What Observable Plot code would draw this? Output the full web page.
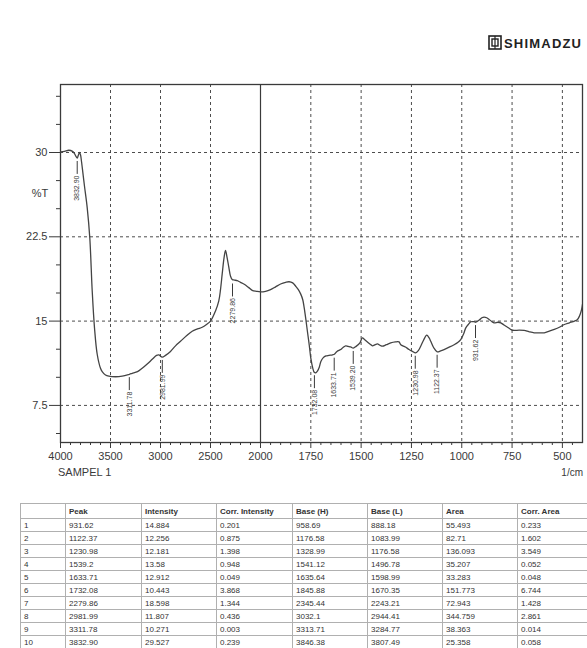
<!DOCTYPE html>
<html><head><meta charset="utf-8">
<script src="https://cdn.jsdelivr.net/npm/d3@7"></script>
<script src="https://cdn.jsdelivr.net/npm/@observablehq/plot@0.6"></script>
<style>
html,body{margin:0;padding:0;background:#fff;overflow:hidden;width:587px;height:648px}
body{font-family:"Liberation Sans",Arial,sans-serif;position:relative}
#chart svg{display:block}
table{border-collapse:collapse;position:absolute;left:20px;top:503px;font-size:8px;color:#333;table-layout:fixed;width:572px}
td,th{border:1px solid #b0b0b0;padding:0 3px;white-space:nowrap;overflow:hidden;text-align:left;font-weight:normal}
th{height:14px;font-weight:bold}
td{height:12px}
</style></head><body><div id="chart"></div><div id="tbl"></div>
<script>
// Spectrum (wavenumber 1/cm, %T)
const wn = [4000,3960,3917,3880,3860,3845,3833,3822,3810,3800,3790,3783,3760,3733,3707,3683,3660,3633,3600,3583,3550,3517,3450,3383,3311,3283,3230,3183,3130,3083,3040,3017,2983,2950,2900,2850,2800,2740,2683,2630,2583,2540,2500,2450,2417,2400,2383,2365,2350,2335,2317,2300,2283,2260,2233,2200,2167,2120,2083,2040,2000,1975,1950,1925,1900,1875,1858,1840,1825,1812,1800,1790,1783,1775,1767,1758,1750,1740,1733,1725,1717,1708,1700,1688,1675,1660,1642,1633,1620,1602,1590,1577,1565,1552,1539,1525,1506,1494,1482,1469,1455,1444,1430,1419,1406,1394,1375,1353,1330,1312,1303,1280,1262,1245,1229,1215,1204,1190,1174,1162,1154,1140,1122,1105,1088,1060,1038,1020,1005,990,980,965,955,940,930,913,900,889,876,864,850,839,820,806,790,773,755,740,715,690,665,640,615,590,565,540,515,490,465,440,425,415,405,400];
const tr = [30.05,30.1,30.2,30.1,29.9,29.65,29.5,29.75,30.0,29.8,29.2,28.7,27.0,25.1,22.4,17.7,14.4,12.05,10.8,10.5,10.2,10.1,10.05,10.1,10.27,10.35,10.5,10.8,11.2,11.6,11.95,12.0,11.8,11.95,12.3,12.8,13.2,13.7,14.1,14.3,14.45,14.7,15.0,15.9,16.8,17.8,19.2,20.6,21.3,20.7,19.8,19.0,18.7,18.65,18.6,18.45,18.3,18.0,17.74,17.65,17.6,17.65,17.8,18.05,18.3,18.45,18.5,18.4,18.1,17.8,17.4,16.9,16.2,15.2,14.1,12.9,11.7,10.8,10.45,10.4,10.55,10.9,11.4,11.75,11.9,11.95,12.0,12.05,12.3,12.47,12.65,12.8,12.75,12.7,12.6,12.75,13.06,13.5,13.35,13.15,12.95,12.8,12.9,12.97,12.85,12.77,12.9,13.06,13.15,13.15,12.9,12.7,12.47,12.3,12.17,12.4,12.77,13.3,13.75,13.5,13.2,12.65,12.26,12.35,12.47,12.7,12.9,13.1,13.36,13.9,14.4,14.75,14.94,14.95,14.9,15.1,15.3,15.36,15.3,15.15,14.95,14.85,14.9,14.85,14.65,14.46,14.25,14.17,14.2,14.17,14.05,13.96,13.95,13.96,14.1,14.26,14.45,14.7,14.85,15.0,15.15,15.45,16.0,16.5];

// Peak annotations
const peakWn = [3832.90,3311.78,2981.99,2279.86,1732.08,1633.71,1539.20,1230.98,1122.37,931.62];
const peakT = [29.5,10.27,11.8,18.6,10.44,12.0,12.6,12.17,12.26,14.9];
const peakLabel = ["3832.90","3311.78","2981.99","2279.86","1732.08","1633.71","1539.20","1230.98","1122.37","931.62"];

// Axis ticks
const xTicks = [4000,3500,3000,2500,2000,1750,1500,1250,1000,750,500];
const xMinor = [3900,3800,3700,3600,3400,3300,3200,3100,2900,2800,2700,2600,2400,2300,2200,2100,1950,1900,1850,1800,1700,1650,1600,1550,1450,1400,1350,1300,1200,1150,1100,1050,950,900,850,800,700,650,600,550,450];
const xGrid = [3500,3000,2500,1750,1500,1250,1000,750,500];
const xBreak = [2000];
const yTicks = [7.5,15,22.5,30];
const yMinor = [5,10,12.5,17.5,20,25,27.5,32.5,35];

// Peak table
const tHeader = ["","Peak","Intensity","Corr. Intensity","Base (H)","Base (L)","Area","Corr. Area"];
const tPeak = ["931.62","1122.37","1230.98","1539.2","1633.71","1732.08","2279.86","2981.99","3311.78","3832.90"];
const tIntensity = ["14.884","12.256","12.181","13.58","12.912","10.443","18.598","11.807","10.271","29.527"];
const tCorrInt = ["0.201","0.875","1.398","0.948","0.049","3.868","1.344","0.436","0.003","0.239"];
const tBaseH = ["958.69","1176.58","1328.99","1541.12","1635.64","1845.88","2345.44","3032.1","3313.71","3846.38"];
const tBaseL = ["888.18","1083.99","1176.58","1496.78","1598.99","1670.35","2243.21","2944.41","3284.77","3807.49"];
const tArea = ["55.493","82.71","136.093","35.207","33.283","151.773","72.943","344.759","38.363","25.358"];
const tCorrArea = ["0.233","1.602","3.549","0.052","0.048","6.744","1.428","2.861","0.014","0.058"];

const spectrum = wn.map((w, i) => ({wn: w, t: tr[i]}));
const peaks = peakWn.map((w, i) => ({wn: w, t: peakT[i], label: peakLabel[i]}));

const ink = "#3a3a3a";
const plot = Plot.plot({
  width: 587, height: 500,
  marginTop: 84, marginBottom: 58, marginLeft: 60, marginRight: 5,
  style: {fontFamily: "'Liberation Sans', Arial, sans-serif", fontSize: "11px", color: ink, background: "#fff"},
  x: {type: "linear", domain: [4000, 2000, 400], range: [60, 260, 582], label: null},
  y: {domain: [4.2, 36.05], label: null},
  marks: [
    Plot.gridX(xGrid, {stroke: ink, strokeOpacity: 0.9, strokeDasharray: "3,3"}),
    Plot.gridY(yTicks, {stroke: ink, strokeOpacity: 0.9, strokeDasharray: "3,3"}),
    Plot.gridX(xBreak, {stroke: ink, strokeOpacity: 1, strokeWidth: 1.2}),
    Plot.frame({stroke: ink, strokeWidth: 1.3}),
    Plot.axisY(yTicks, {tickSize: 11, tickPadding: 2, tickFormat: d => String(d), label: null}),
    Plot.axisY(yMinor, {tickSize: 4, tickFormat: () => "", label: null}),
    Plot.axisX(xTicks, {tickSize: 6, tickPadding: 4, tickFormat: d => String(d), label: null}),
    Plot.axisX(xMinor, {tickSize: 3, tickFormat: () => "", label: null}),
    Plot.line(spectrum, {x: "wn", y: "t", stroke: "#444", strokeWidth: 1.3, curve: "catmull-rom", clip: true}),
    Plot.ruleX(peaks, {x: "wn", y1: d => d.t - 0.3, y2: d => d.t - 1.45, stroke: ink, strokeWidth: 1}),
    Plot.text(peaks, {x: "wn", y: d => d.t - 1.55, text: "label", rotate: -90, textAnchor: "end", fontSize: 7, fill: ink})
  ]
});
document.getElementById("chart").appendChild(plot);

const svg = d3.select(plot);
const txt = (x, y, s, anchor, size, weight) => svg.append("text").attr("x", x).attr("y", y)
  .attr("text-anchor", anchor).attr("font-size", size).attr("font-weight", weight || "normal")
  .attr("fill", ink).attr("font-family", "'Liberation Sans', Arial, sans-serif").text(s);
txt(40, 197, "%T", "middle", 11);
txt(58, 476, "SAMPEL 1", "start", 11);
txt(583, 476, "1/cm", "end", 10);
// logo
const g = svg.append("g").attr("transform", "translate(489,36)");
g.append("rect").attr("width", 12).attr("height", 13).attr("fill", "none").attr("stroke", "#222").attr("stroke-width", 1.6);
g.append("rect").attr("x", 3).attr("y", 3).attr("width", 6).attr("height", 7).attr("fill", "none").attr("stroke", "#222").attr("stroke-width", 1.4);
g.append("line").attr("x1", 6).attr("x2", 6).attr("y1", 0).attr("y2", 13).attr("stroke", "#222").attr("stroke-width", 1.2);
txt(504, 48, "SHIMADZU", "start", 13, "bold").attr("letter-spacing", "1.2px").attr("fill", "#222");

// table
const table = d3.select("#tbl").append("table");
const widths = [45,76,75,76,75,75,75,75];
table.append("colgroup").selectAll("col").data(widths).join("col").attr("style", w => `width:${w}px`);
table.append("tr").selectAll("th").data(tHeader).join("th").text(d => d);
tPeak.forEach((p, i) => {
  table.append("tr").selectAll("td")
    .data([String(i + 1), p, tIntensity[i], tCorrInt[i], tBaseH[i], tBaseL[i], tArea[i], tCorrArea[i]])
    .join("td").text(d => d);
});
</script></body></html>
